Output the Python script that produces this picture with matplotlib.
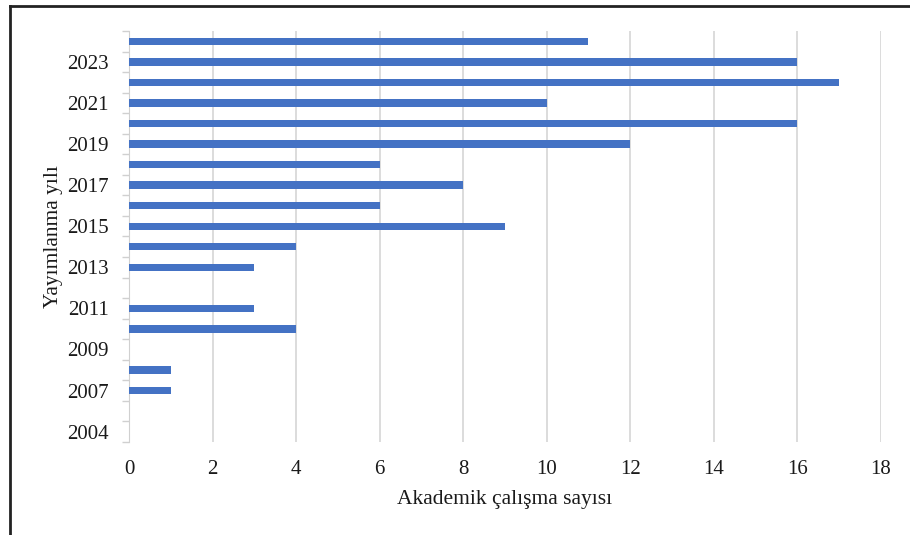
import matplotlib.pyplot as plt
import numpy as np
from matplotlib.lines import Line2D

# Data (bottom to top)
years = ["2004", "2006", "2007", "2008", "2009", "2010", "2011", "2012", "2013", "2014",
         "2015", "2016", "2017", "2018", "2019", "2020", "2021", "2022", "2023", "2024"]
counts = [0, 0, 1, 1, 0, 4, 3, 0, 3, 4,
          9, 6, 8, 6, 12, 16, 10, 17, 16, 11]
x_ticks = [0, 2, 4, 6, 8, 10, 12, 14, 16, 18]

plt.rcParams['font.family'] = ['Liberation Serif', 'DejaVu Serif']

fig = plt.figure(figsize=(9.1, 5.35), dpi=100)
ax = fig.add_axes([0.1418, 0.174, 0.826, 0.768])

pos = np.arange(len(years))
ax.barh(pos, counts, height=0.36, color="#4472C4", zorder=3)

ax.set_xlim(0, 18)
ax.set_ylim(-0.5, len(years) - 0.5)
ax.set_xticks(x_ticks)
ax.set_xticklabels([str(t) for t in x_ticks], fontsize=15, color="#1a1a1a")
ax.set_yticks(pos[::2])
ax.set_yticklabels(years[::2], fontsize=15, color="#1a1a1a")
ax.set_yticks(np.arange(-0.5, len(years)), minor=True)
ax.tick_params(axis='y', which='major', length=0, pad=14.5)
ax.tick_params(axis='y', which='minor', length=5, color="#d0d0d0", width=1)
ax.tick_params(axis='x', length=0, pad=13)

ax.grid(axis='x', color="#d9d9d9", linewidth=1.3, zorder=0)
for s in ["top", "right", "bottom"]:
    ax.spines[s].set_visible(False)
ax.spines["left"].set_color("#d0d0d0")

ax.set_xlabel("Akademik çalışma sayısı", fontsize=15.5, labelpad=8, color="#1a1a1a")
ax.set_ylabel("Yayımlanma yılı", fontsize=15.5, labelpad=3, color="#1a1a1a")

# outer frame (top and left edges visible)
fig.add_artist(Line2D([0.0105, 1.0], [0.988, 0.988], color="#222222", linewidth=2))
fig.add_artist(Line2D([0.0105, 0.0105], [0.0, 0.988], color="#222222", linewidth=2))

plt.savefig("out.png", dpi=100)
plt.close()
